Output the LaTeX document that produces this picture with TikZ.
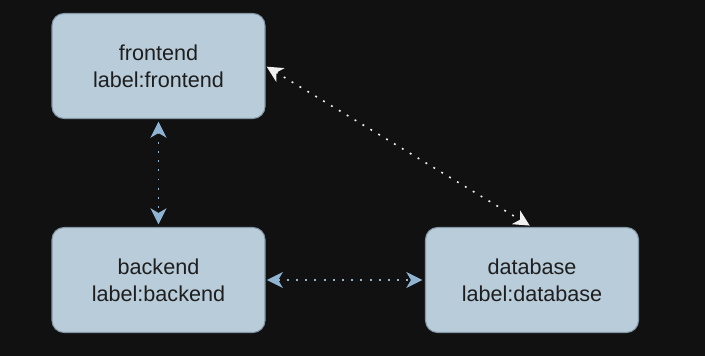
\documentclass[tikz,border=0pt]{standalone}
\usepackage{fontspec}
\setmainfont{Liberation Sans}
\usetikzlibrary{arrows.meta, positioning}
\definecolor{cback}{HTML}{111111}
\definecolor{cbox}{HTML}{B9CCDA}
\definecolor{cedge}{HTML}{8396A6}
\definecolor{ctext}{HTML}{1E1E1E}
\definecolor{cblue}{HTML}{8FB3D0}
\definecolor{cwhite}{HTML}{F0F0F0}
\tikzset{
  every picture/.style={x=0.75pt, y=-0.75pt},
  svc/.style={draw=cedge, fill=cbox, rounded corners=9pt, line width=0.8pt, align=center,
    text=ctext, font=\fontsize{16.2}{20.3}\selectfont, minimum width=213*0.75pt, minimum height=105*0.75pt, inner sep=0pt},
  link/.style={{Stealth[length=12pt, width=12pt, inset=3.5pt]}-{Stealth[length=12pt, width=12pt, inset=3.5pt]},
    draw=#1, line width=1.2pt, dash pattern=on 1.4pt off 5.5pt},
  link/.default=cblue,
}
\begin{document}
\begin{tikzpicture}
  \fill[cback] (0,0) rectangle (705,356);
  \useasboundingbox (0,0) rectangle (705,356);
  % services
  \node[svc] (frontend) at (158.5,66) {frontend\\label:frontend};
  \node[svc] (backend) at (158.5,280) {backend\\label:backend};
  \node[svc] (database) at (532,280) {database\\label:database};
  % dependencies
  \draw[link, shorten <=2pt, shorten >=2pt] (frontend) -- (backend);
  \draw[link, shorten <=1pt, shorten >=2pt] (backend) -- (database);
  \draw[link=cwhite, shorten <=1pt, shorten >=2pt] (frontend.east) -- (database.north);
\end{tikzpicture}
\end{document}
